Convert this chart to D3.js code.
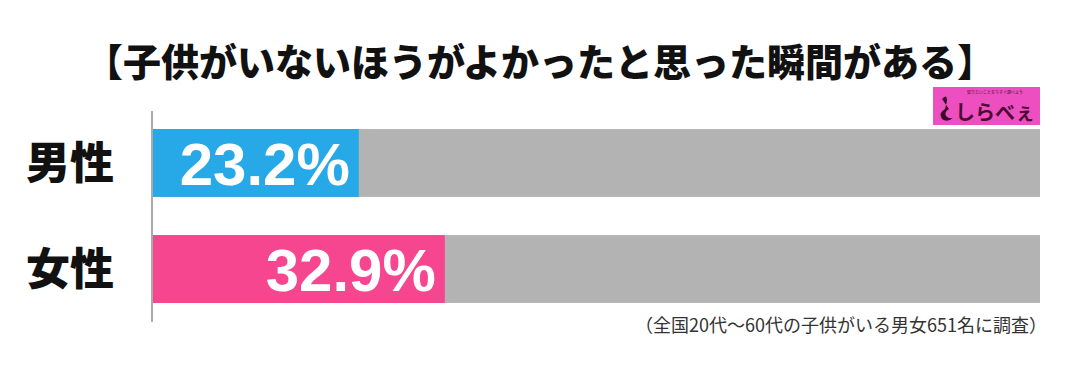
<!DOCTYPE html>
<html>
<head>
<meta charset="utf-8">
<script src="https://d3js.org/d3.v7.min.js"></script>
<style>
  body { margin: 0; background: #fff; }
  text { font-family: "Noto Sans CJK JP", sans-serif; }
</style>
</head>
<body>
<svg width="1080" height="372"></svg>
<script>
// data
const categories = ['男性', '女性'];
const values = [23.2, 32.9];
const barColors = ['#27a9e8', '#f5468f'];
const titleText = '【子供がいないほうがよかったと思った瞬間がある】';
const noteText = '（全国20代～60代の子供がいる男女651名に調査）';

const svg = d3.select('svg');
const left = 153, right = 1040;

const x = d3.scaleLinear().domain([0, 100]).range([left, right]);
const y = d3.scaleBand().domain(categories).range([111, 321]).paddingInner(0.36).paddingOuter(0.17);

svg.append('text')
  .attr('x', 540).attr('y', 76)
  .attr('text-anchor', 'middle')
  .style('font-size', '38px').style('font-weight', '900')
  .attr('fill', '#111')
  .text(titleText);

// grey background bars
svg.selectAll('rect.bg').data(categories).enter().append('rect')
  .attr('class', 'bg')
  .attr('x', x(0)).attr('y', d => y(d))
  .attr('width', x(100) - x(0)).attr('height', y.bandwidth())
  .attr('fill', '#b3b3b3');

svg.selectAll('rect.val').data(values).enter().append('rect')
  .attr('class', 'val')
  .attr('x', x(0)).attr('y', (d, i) => y(categories[i]))
  .attr('width', d => x(d) - x(0)).attr('height', y.bandwidth())
  .attr('fill', (d, i) => barColors[i]);

svg.selectAll('text.val').data(values).enter().append('text')
  .attr('class', 'val')
  .attr('x', d => x(d) - 9)
  .attr('y', (d, i) => y(categories[i]) + y.bandwidth() / 2)
  .attr('dy', '0.36em')
  .attr('text-anchor', 'end')
  .style('font-family', '"Liberation Sans", Arial, sans-serif')
  .style('font-size', '60px').style('font-weight', 'bold')
  .attr('fill', '#fff')
  .text(d => d.toFixed(1) + '%');

svg.selectAll('text.cat').data(categories).enter().append('text')
  .attr('class', 'cat')
  .attr('x', 70)
  .attr('y', d => y(d) + y.bandwidth() / 2)
  .attr('dy', '0.36em')
  .attr('text-anchor', 'middle')
  .style('font-size', '44px').style('font-weight', '900')
  .attr('fill', '#111')
  .text(d => d);

// axis line
svg.append('line')
  .attr('x1', left - 1).attr('x2', left - 1)
  .attr('y1', 111).attr('y2', 322)
  .attr('stroke', '#aaa').attr('stroke-width', 2);

// logo
const logo = svg.append('g').attr('transform', 'translate(933,87)');
logo.append('rect').attr('width', 107).attr('height', 38).attr('fill', '#ee4fc0');
logo.append('text').attr('x', 62).attr('y', 7)
  .attr('text-anchor', 'middle')
  .style('font-size', '4px').attr('fill', '#4a1030')
  .text('知りたいことを今すぐ調べよう');
// swan-like icon
logo.append('path')
  .attr('d', 'M9,12 Q14,6 14,14 L12,22 Q5,26 9,32 Q14,36 20,31 Q16,32 13,29 Q11,25 16,22 Z')
  .attr('fill', '#3a0a2a');
logo.append('text').attr('x', 22).attr('y', 33)
  .style('font-size', '20px').style('font-weight', 'bold').attr('fill', '#4a0a34')
  .text('しらべぇ');

svg.append('text')
  .attr('x', 1047).attr('y', 332)
  .attr('text-anchor', 'end')
  .style('font-size', '18px').attr('fill', '#333')
  .text(noteText);
</script>
</body>
</html>
